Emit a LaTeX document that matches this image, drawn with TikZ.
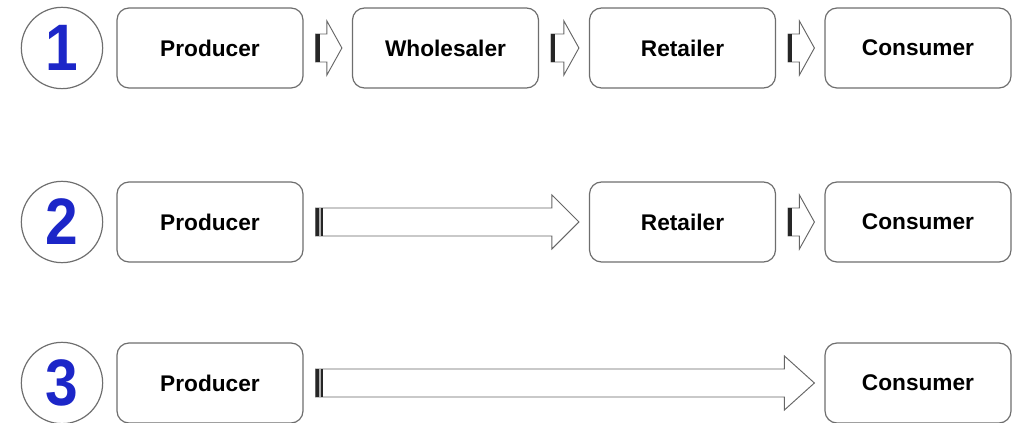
\documentclass[tikz,border=0pt]{standalone}
\usepackage{fontspec}
\setmainfont{Liberation Sans}
\usetikzlibrary{calc}
\definecolor{numblue}{RGB}{28,38,200}
\definecolor{boxgray}{RGB}{110,110,110}
\newcommand\flowarrow[3]{%
  \path ($(#1.east)+(12,0)$) coordinate (s) ($(#2.west)+(-10,0)$) coordinate (t);
  \draw[arrowline] ($(s)+(0,-14)$) -- ($(t)+(-#3,-14)$) -- ($(t)+(-#3,-27)$) -- (t)
    -- ($(t)+(-#3,27)$) -- ($(t)+(-#3,14)$) -- ($(s)+(0,14)$) -- cycle;
}
\tikzset{
  stage/.style={draw=boxgray, line width=0.9pt, rounded corners=9pt, fill=white,
    minimum width=139.5pt, minimum height=60pt, inner sep=0pt,
    font=\fontsize{17}{20}\selectfont\bfseries},
  numcirc/.style={circle, draw=boxgray, line width=0.9pt, minimum size=61pt, inner sep=0pt,
    text=numblue, font=\fontsize{44}{44}\selectfont\bfseries},
  arrowline/.style={draw=gray!80!black, line width=0.7pt, fill=white, line join=miter},
  barfill/.style={fill=gray!30!black}
}
\begin{document}
\begin{tikzpicture}[x=0.75pt,y=-0.75pt]
\useasboundingbox (0,0) rectangle (1016,423);
% row 1
\node[numcirc] (n1) at (62,48) {\scalebox{1}[1.12]{1}};
\node[stage] (p1) at (210,48) {Producer};
\node[stage] (w1) at (445.5,48) {Wholesaler};
\node[stage] (r1) at (682.5,48) {Retailer};
\node[stage] (c1) at (918,48) {Consumer};
\flowarrow{p1}{w1}{15}
\fill[barfill] ($(s)+(0,-14)$) rectangle ($(s)+(4,14)$);
\flowarrow{w1}{r1}{15}
\fill[barfill] ($(s)+(0,-14)$) rectangle ($(s)+(4,14)$);
\flowarrow{r1}{c1}{15}
\fill[barfill] ($(s)+(0,-14)$) rectangle ($(s)+(4,14)$);
% row 2
\node[numcirc] (n2) at (62,222) {\scalebox{1}[1.12]{2}};
\node[stage] (p2) at (210,222) {Producer};
\node[stage] (r2) at (682.5,222) {Retailer};
\node[stage] (c2) at (918,222) {Consumer};
\flowarrow{p2}{r2}{27}
\fill[barfill] ($(s)+(0,-14)$) rectangle ($(s)+(3,14)$);
\fill[gray!60] ($(s)+(3,-14)$) rectangle ($(s)+(5,14)$);
\fill[barfill] ($(s)+(5,-14)$) rectangle ($(s)+(7,14)$);
\flowarrow{r2}{c2}{15}
\fill[barfill] ($(s)+(0,-14)$) rectangle ($(s)+(4,14)$);
% row 3
\node[numcirc] (n3) at (62,383) {\scalebox{1}[1.12]{3}};
\node[stage] (p3) at (210,383) {Producer};
\node[stage] (c3) at (918,383) {Consumer};
\flowarrow{p3}{c3}{30}
\fill[barfill] ($(s)+(0,-14)$) rectangle ($(s)+(3,14)$);
\fill[gray!60] ($(s)+(3,-14)$) rectangle ($(s)+(5,14)$);
\fill[barfill] ($(s)+(5,-14)$) rectangle ($(s)+(7,14)$);
\end{tikzpicture}
\end{document}
